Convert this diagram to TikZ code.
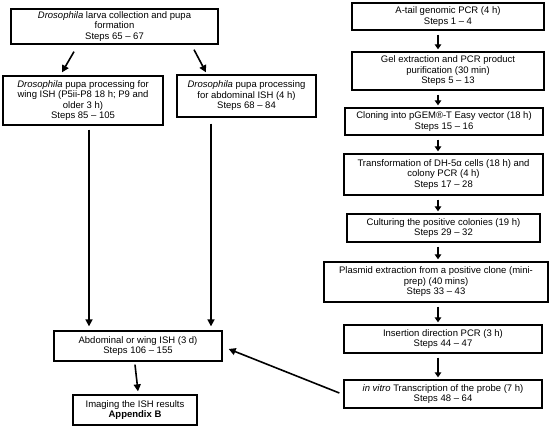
\documentclass[tikz,border=0pt]{standalone}
\usepackage{fontspec}
\setmainfont{Liberation Sans}
\usetikzlibrary{calc,arrows.meta}
\begin{document}
\begin{tikzpicture}[x=1pt,y=-1pt,
  box/.style={draw,line width=1.3pt,rectangle,align=center,inner sep=0pt,
    font=\fontsize{9.5}{10.5}\selectfont},
  thinarr/.style={-{Triangle[length=7pt,width=7pt]},line width=1.6pt},
  thickarr/.style={-{Triangle[length=5pt,width=6.5pt]},line width=2.8pt}]
\useasboundingbox (0,0) rectangle (550,428);
\fill[white] (0,0) rectangle (550,428);
% left column
\node[box,minimum width=207pt,minimum height=35pt] (B1) at (114.5,26.5)
  {\textit{Drosophila} larva collection and pupa\\formation\\Steps 65 – 67};
\node[box,minimum width=160pt,minimum height=49pt] (B2) at (83,100.5)
  {\textit{Drosophila} pupa processing for\\wing ISH (P5ii-P8 18 h; P9 and\\older 3 h)\\Steps 85 – 105};
\node[box,minimum width=139pt,minimum height=42pt] (B3) at (246.5,96)
  {\textit{Drosophila} pupa processing\\for abdominal ISH (4 h)\\Steps 68 – 84};
\node[box,minimum width=168pt,minimum height=30pt] (B4) at (138,346)
  {Abdominal or wing ISH (3 d)\\Steps 106 – 155};
\node[box,minimum width=124pt,minimum height=30pt] (B5) at (135,410)
  {Imaging the ISH results\\\textbf{Appendix B}};
% right column
\node[box,minimum width=192pt,minimum height=27pt] (R1) at (448,16.5)
  {A-tail genomic PCR (4 h)\\Steps 1 – 4};
\node[box,minimum width=192pt,minimum height=38pt] (R2) at (448,71)
  {Gel extraction and PCR product\\purification (30 min)\\Steps 5 – 13};
\node[box,minimum width=198pt,minimum height=27pt] (R3) at (444,121.5)
  {Cloning into pGEM®-T Easy vector (18 h)\\Steps 15 – 16};
\node[box,minimum width=199pt,minimum height=41pt] (R4) at (443.5,174.5)
  {Transformation of DH-5α cells (18 h) and\\colony PCR (4 h)\\Steps 17 – 28};
\node[box,minimum width=193pt,minimum height=28pt] (R5) at (443.5,228)
  {Culturing the positive colonies (19 h)\\Steps 29 – 32};
\node[box,minimum width=224pt,minimum height=40pt] (R6) at (436,282)
  {Plasmid extraction from a positive clone (mini-\\prep) (40 mins)\\Steps 33 – 43};
\node[box,minimum width=198pt,minimum height=28pt] (R7) at (443,339)
  {Insertion direction PCR (3 h)\\Steps 44 – 47};
\node[box,minimum width=198pt,minimum height=28pt] (R8) at (443,394)
  {\textit{in vitro} Transcription of the probe (7 h)\\Steps 48 – 64};
\coordinate (axis) at (438,0);
% right column arrows
\foreach \a/\b in {R1/R2,R2/R3,R3/R4,R4/R5,R5/R6,R6/R7,R7/R8}
  \draw[thickarr,shorten <=4pt,shorten >=2pt] (\a.south -| axis) -- (\b.north -| axis);
% left arrows
\draw[thinarr] ($(B1.south)+(-40.5,7)$) -- ($(B2.north)+(-21,-3)$);
\draw[thinarr] ($(B1.south)+(79.5,5)$) -- ($(B3.north)+(-40.5,-2)$);
\coordinate (c2) at (89,0);
\coordinate (c3) at (211,0);
\draw[thinarr,shorten <=4pt,shorten >=4pt] (B2.south -| c2) -- (B4.north -| c2);
\draw[thinarr,shorten <=6pt,shorten >=4pt] (B3.south -| c3) -- (B4.north -| c3);
\draw[thinarr] ($(B4.south)+(-3,3)$) -- ($(B5.north)+(3,-3)$);
\draw[thinarr] ($(R8.west)+(-4,-1)$) -- ($(B4.east)+(6,3)$);
\end{tikzpicture}
\end{document}
